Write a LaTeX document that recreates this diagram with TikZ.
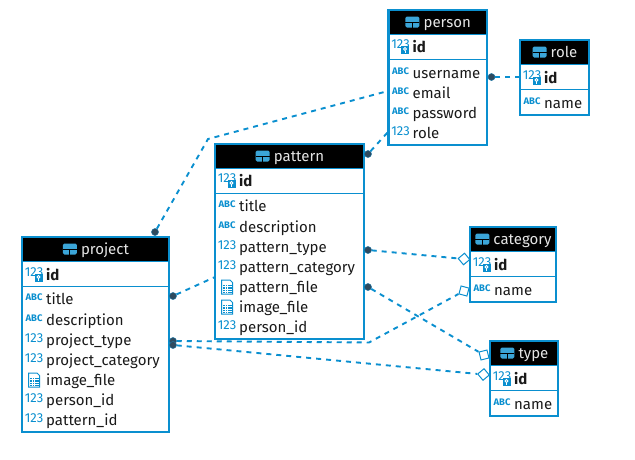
\documentclass[tikz,border=0pt]{standalone}
\usepackage{fontspec}
\setmainfont{Fira Sans}
\usepackage{xcolor}
\usetikzlibrary{shapes.geometric, positioning, calc}
\definecolor{erblue}{HTML}{0A8FCF}
\definecolor{erdot}{HTML}{2F4A5E}
\tikzset{
    tablebox/.style={
        draw=erblue,
        line width=2.2pt,
        anchor=north west,
        inner sep=0pt,
        outer sep=0pt,
    },
    headbox/.style={
        fill=black,
        anchor=north west,
        inner sep=0pt,
        outer sep=0pt,
    },
    headtext/.style={
        text=black!10,
        font=\fontsize{15}{17}\selectfont,
        inner sep=0pt,
    },
    coltext/.style={
        anchor=west,
        text=black!90,
        font=\fontsize{15}{17}\selectfont,
        inner sep=0pt,
        text height=10pt,
        text depth=3pt,
    },
    fkline/.style={
        draw=erblue,
        dashed,
        line width=1.9pt,
        dash pattern=on 5pt off 5pt,
    },
    fkdot/.style={
        circle,
        fill=erdot,
        draw=erblue!60!erdot,
        line width=0.5pt,
        inner sep=0pt,
        minimum size=7pt,
    },
    fkdiamond/.style={
        diamond,
        aspect=1,
        draw=erblue,
        fill=white,
        line width=1pt,
        inner sep=0pt,
        minimum size=12pt,
    },
}
% icons: name, x, y
\newcommand{\iconabc}[3]{
    \node[inner sep=0pt, text=erblue, font=\fontsize{9.5}{10}\selectfont\bfseries] (#1) at (#2,#3) {ABC};
}
\newcommand{\iconnum}[3]{
    \node[inner sep=0pt, text=erblue, font=\fontsize{13}{13}\selectfont\addfontfeature{Numbers=Lining}] (#1) at (#2,#3) {123};
}
\newcommand{\iconkey}[3]{
    \iconnum{#1}{#2}{#3-1}
    \fill[erblue] ($(#1.center)+(0.5,2)$) rectangle ($(#1.center)+(8.5,10)$);
    \draw[white, line width=0.8pt] ($(#1.center)+(4.5,5)$) circle (1.5);
    \draw[white, line width=0.8pt] ($(#1.center)+(4.5,6.5)$) -- ($(#1.center)+(4.5,9)$);
}
\newcommand{\iconfile}[3]{
    \coordinate (#1) at (#2,#3+2);
    \draw[erblue, line width=1pt] ($(#1)+(-5.5,-7)$) -- ($(#1)+(3,-7)$) -- ($(#1)+(5.5,-4.5)$) -- ($(#1)+(5.5,7)$) -- ($(#1)+(-5.5,7)$) -- cycle;
    \foreach \gx in {-3,-0.5,2,4}
        \foreach \gy in {-1.5,1,3.5,5.5}
            \fill[erblue] ($(#1)+(\gx-0.7,\gy-0.7)$) rectangle ($(#1)+(\gx+0.7,\gy+0.7)$);
}
% table frame: name, left, top, width, height, title
\newcommand{\ertable}[6]{
    \node[headbox, minimum width=#4pt, minimum height=24pt] (#1-head) at (#2,#3) {};
    \draw[erblue, line width=1.4pt] (#2,#3+24.5) -- +(#4,0);
    \draw[erblue, line width=0.8pt] (#2,#3+49) -- +(#4,0);
    \node[tablebox, minimum width=#4pt, minimum height=#5pt] (#1) at (#2,#3) {};
    \node[headtext, anchor=base] (#1-title) at ($(#1-head.center)+(9.5,5)$) {#6};
    \coordinate (#1-tab) at ($(#1-title.base west)+(-11,-5)$);
    \fill[erblue!80!white, rounded corners=1.5pt] ($(#1-tab)+(-7,-5.5)$) rectangle ($(#1-tab)+(7,5.5)$);
    \draw[black, line width=0.7pt] ($(#1-tab)+(-7,0)$) -- ($(#1-tab)+(7,0)$) ($(#1-tab)+(0,0)$) -- ($(#1-tab)+(0,5.5)$);
}
% rows: table, left, list of y/icon/text
\newcommand{\ercols}[3]{
    \foreach \rowy/\rowicon/\rowtext [count=\n] in {#3} {
        \node[coltext] (#1-\n) at (#2+24,\rowy+1.5) {\rowtext};
        \rowicon{#1-\n-icon}{#2+12}{\rowy-2}
    }
}
\begin{document}
\begin{tikzpicture}[x=1pt, y=-1pt]
    \useasboundingbox (0,0) rectangle (635,459);

    \ertable{person}{388.5}{10}{98.5}{135}{person}
    \ercols{person}{388.5}{47/\iconkey/{\bfseries id}, 73/\iconabc/username, 93/\iconabc/email, 113/\iconabc/password, 133/\iconnum/role}

    \ertable{role}{520}{40}{69}{75}{role}
    \ercols{role}{520}{78/\iconkey/{\bfseries id}, 103/\iconabc/name}

    \ertable{pattern}{215}{144}{149}{195}{pattern}
    \ercols{pattern}{215}{181/\iconkey/{\bfseries id}, 206/\iconabc/title, 227/\iconabc/description, 247/\iconnum/pattern\_type, 267/\iconnum/pattern\_category, 287/\iconfile/pattern\_file, 307/\iconfile/image\_file, 327/\iconnum/person\_id}

    \ertable{project}{22}{237}{147}{195}{project}
    \ercols{project}{22}{275/\iconkey/{\bfseries id}, 299/\iconabc/title, 320/\iconabc/description, 340/\iconnum/project\_type, 360/\iconnum/project\_category, 380/\iconfile/image\_file, 400/\iconnum/person\_id, 420/\iconnum/pattern\_id}

    \ertable{category}{470}{227}{86}{75}{category}
    \ercols{category}{470}{265/\iconkey/{\bfseries id}, 290/\iconabc/name}

    \ertable{type}{490}{341}{68}{75}{type}
    \ercols{type}{490}{379/\iconkey/{\bfseries id}, 404/\iconabc/name}

    % connector ends
    \node[fkdot] (dotproject) at (155,232) {};
    \node[fkdot] (dotpattern) at (368,154) {};
    \node[fkdot] (dotperson) at (491.5,77) {};
    \node[fkdot] (dotprojectpat) at (173,296) {};
    \node[fkdot] (dotprojectcat) at (173,341) {};
    \node[fkdot] (dotprojecttyp) at (173,345) {};
    \node[fkdot] (dotpatterncat) at (368,250) {};
    \node[fkdot] (dotpatterntyp) at (368,287) {};
    \node[fkdiamond, rotate=-5] (catid) at (464,259) {};
    \node[fkdiamond, rotate=30] (catname) at (464,291) {};
    \node[fkdiamond, rotate=-31] (typid) at (484,355) {};
    \node[fkdiamond, rotate=-5] (typname) at (483.5,374.5) {};
    \coordinate (bendperson) at (208,139);
    \coordinate (bendcat) at (369,342.5);
    \coordinate (personemail) at (388,91);
    \coordinate (personrole) at (388,132);
    \coordinate (roleid) at (520,77);
    \coordinate (patternleft) at (215,277);

    \draw[fkline] (dotproject) -- (bendperson) -- (personemail);
    \draw[fkline] (dotpattern) -- (personrole);
    \draw[fkline] (dotperson) -- (roleid);
    \draw[fkline] (dotprojectpat) -- (patternleft);
    \draw[fkline] (dotprojectcat) -- (bendcat) -- (catname);
    \draw[fkline] (dotprojecttyp) -- (typname);
    \draw[fkline] (dotpatterncat) -- (catid);
    \draw[fkline] (dotpatterntyp) -- (typid);
\end{tikzpicture}
\end{document}
